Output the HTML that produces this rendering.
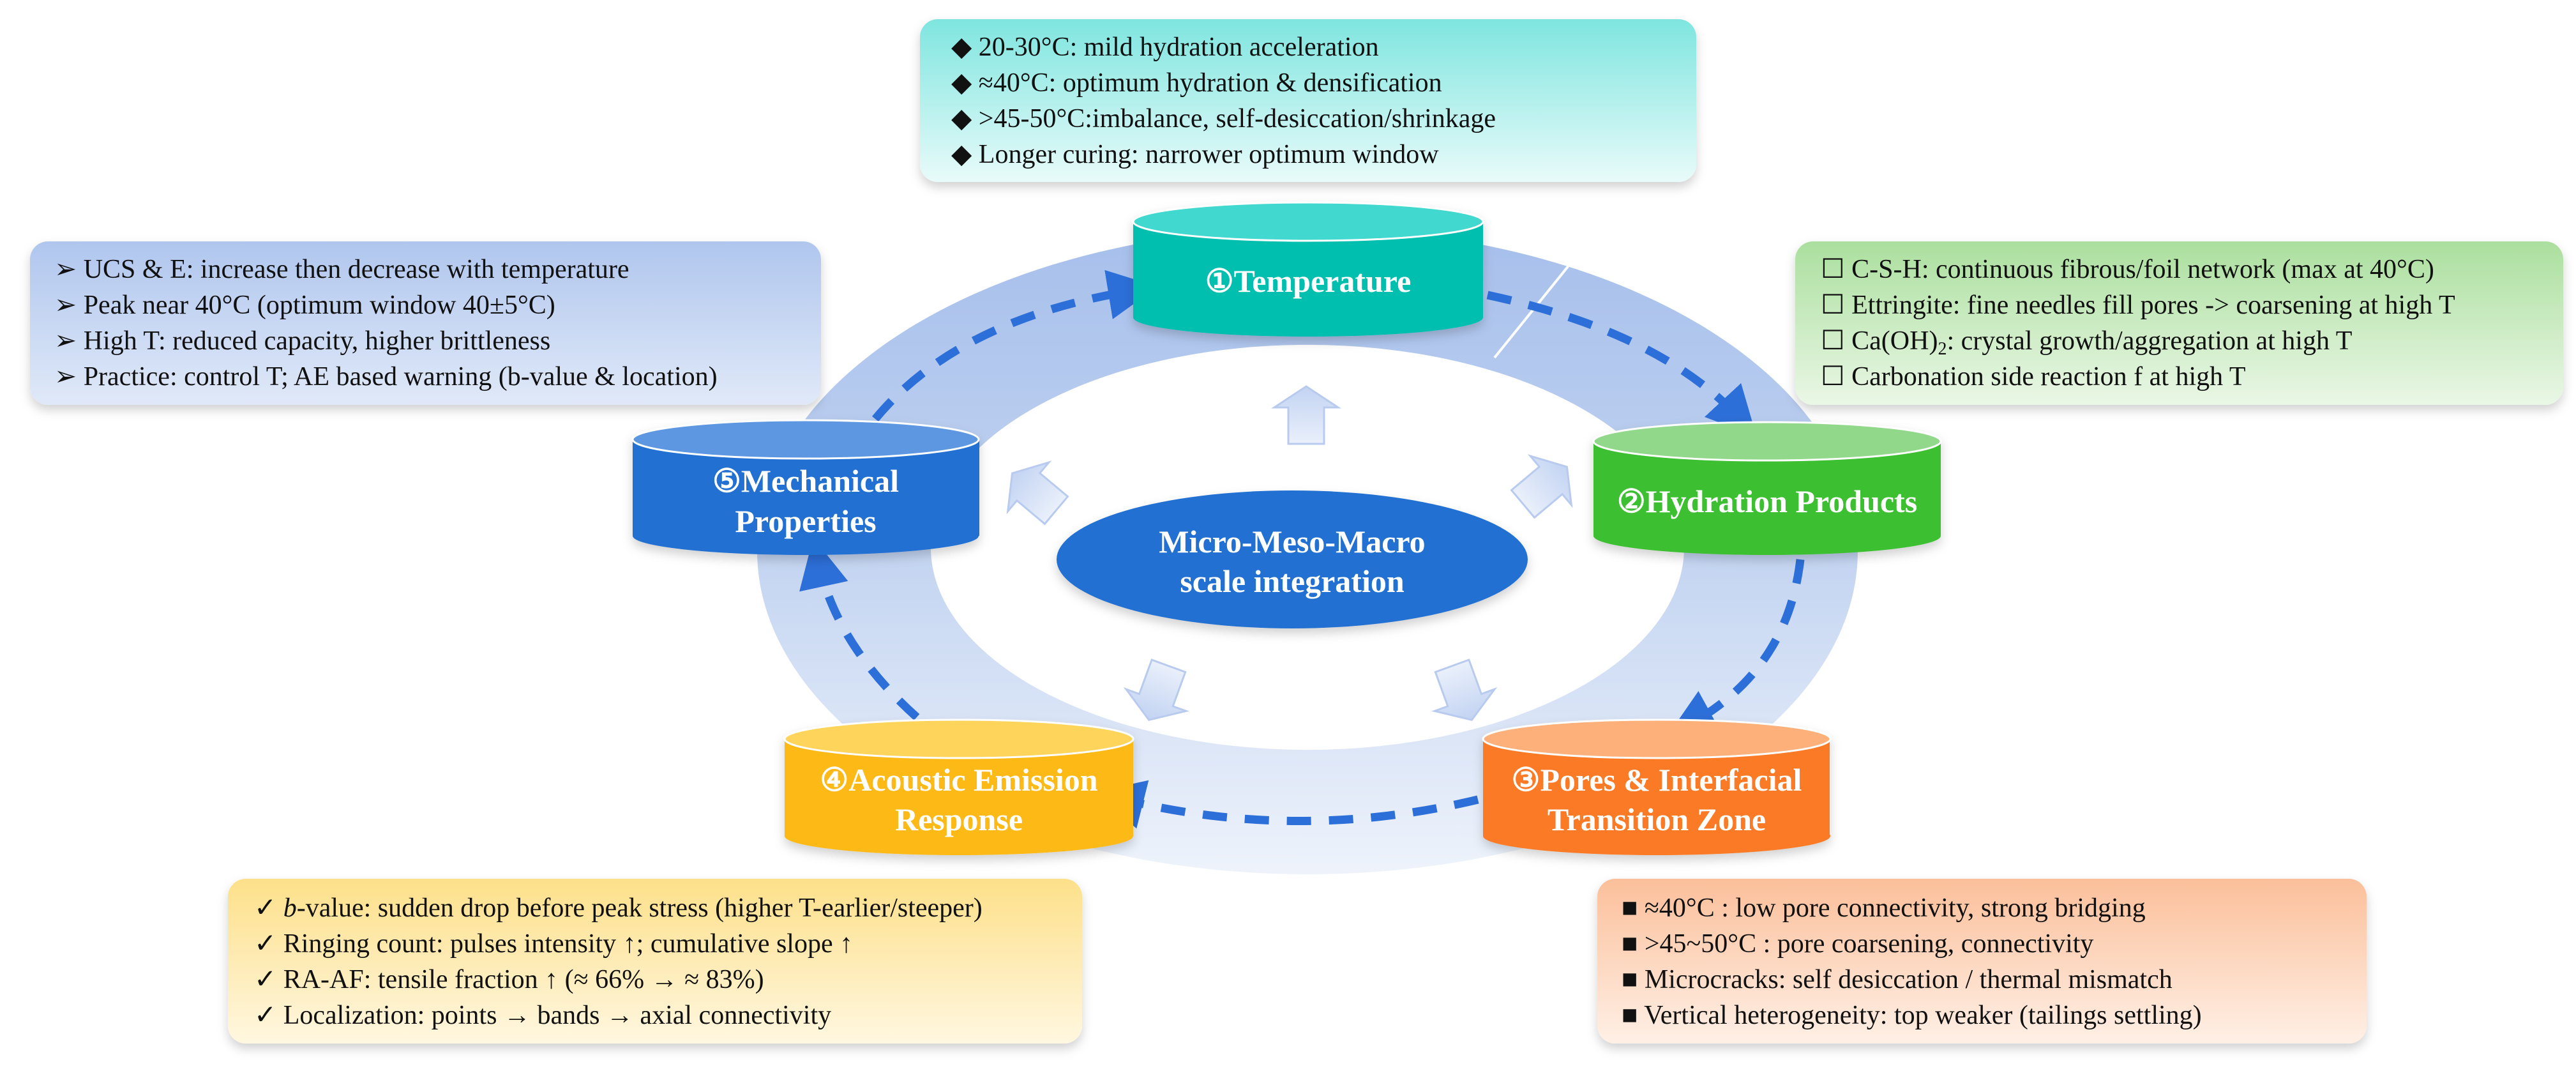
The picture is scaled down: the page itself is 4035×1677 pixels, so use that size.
<!DOCTYPE html>
<html><head><meta charset="utf-8"><style>
html,body{margin:0;padding:0;background:#fff;}
svg{display:block;}
text{font-family:"Liberation Serif","DejaVu Serif",serif;}
.t{font-size:42px;fill:#111;}
.c{font-size:50px;font-weight:bold;fill:#fff;text-anchor:middle;}
</style></head><body>
<svg width="4035" height="1677" viewBox="0 0 4035 1677" xmlns="http://www.w3.org/2000/svg">
<defs>
<linearGradient id="ring" x1="0" y1="0" x2="0" y2="1">
<stop offset="0" stop-color="#a6bfeb"/><stop offset="0.5" stop-color="#c3d4f1"/><stop offset="1" stop-color="#eef3fb"/></linearGradient>
<linearGradient id="gTop" x1="0" y1="0" x2="0" y2="1"><stop offset="0" stop-color="#7fe5df"/><stop offset="1" stop-color="#e8fbfa"/></linearGradient>
<linearGradient id="gLeft" x1="0" y1="0" x2="0" y2="1"><stop offset="0" stop-color="#b0c6ee"/><stop offset="1" stop-color="#e0e9f8"/></linearGradient>
<linearGradient id="gRight" x1="0" y1="0" x2="0" y2="1"><stop offset="0" stop-color="#abdf9e"/><stop offset="1" stop-color="#eaf7e6"/></linearGradient>
<linearGradient id="gBL" x1="0" y1="0" x2="0" y2="1"><stop offset="0" stop-color="#fde08a"/><stop offset="1" stop-color="#fff7e0"/></linearGradient>
<linearGradient id="gBR" x1="0" y1="0" x2="0" y2="1"><stop offset="0" stop-color="#fbbf9a"/><stop offset="1" stop-color="#fff0e6"/></linearGradient>
<linearGradient id="arr" x1="0" y1="0" x2="0" y2="1"><stop offset="0" stop-color="#c2d3f2"/><stop offset="1" stop-color="#eaf0fb"/></linearGradient>
<filter id="sh" x="-5%" y="-10%" width="110%" height="125%"><feDropShadow dx="0" dy="8" stdDeviation="8" flood-color="#000" flood-opacity="0.18"/></filter>
<marker id="ah" markerWidth="6" markerHeight="6" refX="3" refY="3" orient="auto" markerUnits="strokeWidth"><path d="M0,0 L6,3 L0,6 Z" fill="#2d6fd8"/></marker>
</defs>

<path fill-rule="evenodd" fill="url(#ring)" d="M1186,863 a862,506 0 1,0 1724,0 a862,506 0 1,0 -1724,0 Z M1458,857 a590,317 0 1,0 1180,0 a590,317 0 1,0 -1180,0 Z"/>
<line x1="2470" y1="400" x2="2341" y2="560" stroke="#fff" stroke-width="4"/>

<g filter="url(#sh)">
<rect x="1441" y="30" width="1216" height="255" rx="28" fill="url(#gTop)"/>
<rect x="47" y="378" width="1239" height="256" rx="28" fill="url(#gLeft)"/>
<rect x="2812" y="378" width="1203" height="256" rx="28" fill="url(#gRight)"/>
<rect x="357" y="1376" width="1338" height="258" rx="28" fill="url(#gBL)"/>
<rect x="2502" y="1376" width="1205" height="258" rx="28" fill="url(#gBR)"/>
</g>

<g class="t">
<text x="1490" y="87" class="t">◆  20-30°C: mild hydration acceleration</text>
<text x="1490" y="143" class="t">◆  ≈40°C: optimum hydration &amp; densification</text>
<text x="1490" y="199" class="t">◆  &gt;45-50°C:imbalance, self-desiccation/shrinkage</text>
<text x="1490" y="255" class="t">◆  Longer curing: narrower optimum window</text>

<text x="85" y="435" class="t">➢  UCS &amp; E: increase then decrease with temperature</text>
<text x="85" y="491" class="t">➢  Peak near 40°C (optimum window 40±5°C)</text>
<text x="85" y="547" class="t">➢  High T: reduced capacity, higher brittleness</text>
<text x="85" y="603" class="t">➢  Practice: control T; AE based warning (b-value &amp; location)</text>

<text x="2852" y="435" class="t">☐  C-S-H: continuous fibrous/foil network (max at 40°C)</text>
<text x="2852" y="491" class="t">☐  Ettringite: fine needles fill pores -&gt; coarsening at high T</text>
<text x="2852" y="547" class="t">☐  Ca(OH)<tspan font-size="28" dy="8">2</tspan><tspan dy="-8">: crystal growth/aggregation at high T</tspan></text>
<text x="2852" y="603" class="t">☐  Carbonation side reaction f at high T</text>

<text x="398" y="1435" class="t">✓  <tspan font-style="italic">b</tspan>-value: sudden drop before peak stress (higher T-earlier/steeper)</text>
<text x="398" y="1491" class="t">✓  Ringing count: pulses intensity ↑; cumulative slope ↑</text>
<text x="398" y="1547" class="t">✓  RA-AF: tensile fraction ↑ (≈ 66% → ≈ 83%)</text>
<text x="398" y="1603" class="t">✓  Localization: points → bands → axial connectivity</text>

<text x="2540" y="1435" class="t">■  ≈40°C : low pore connectivity, strong bridging</text>
<text x="2540" y="1491" class="t">■  &gt;45~50°C : pore coarsening, connectivity</text>
<text x="2540" y="1547" class="t">■  Microcracks: self desiccation / thermal mismatch</text>
<text x="2540" y="1603" class="t">■  Vertical heterogeneity: top weaker (tailings settling)</text>
</g>

<g fill="url(#arr)" stroke="#b8cbef" stroke-width="3">
<path transform="translate(2046,650)" d="M0,-45 L50,-12 L28,-12 L28,45 L-28,45 L-28,-12 L-50,-12 Z"/>
<path transform="translate(1620,770) rotate(-50)" d="M0,-45 L50,-12 L28,-12 L28,45 L-28,45 L-28,-12 L-50,-12 Z"/>
<path transform="translate(2420,760) rotate(50)" d="M0,-45 L50,-12 L28,-12 L28,45 L-28,45 L-28,-12 L-50,-12 Z"/>
<path transform="translate(1815,1085) rotate(200)" d="M0,-45 L50,-12 L28,-12 L28,45 L-28,45 L-28,-12 L-50,-12 Z"/>
<path transform="translate(2290,1085) rotate(160)" d="M0,-45 L50,-12 L28,-12 L28,45 L-28,45 L-28,-12 L-50,-12 Z"/>
</g>

<g fill="none" stroke="#2d6fd8" stroke-width="13" stroke-dasharray="38,28" marker-end="url(#ah)">
<path d="M1371,656 Q1500,500 1775,455"/>
<path d="M2330,462 Q2600,520 2725,655"/>
<path d="M2820,876 Q2800,1050 2645,1135"/>
<path d="M2315,1252 Q2030,1320 1752,1250"/>
<path d="M1436,1123 Q1310,1010 1282,880"/>
</g>

<ellipse cx="2024" cy="876" rx="369" ry="108" fill="#2170d2" filter="url(#sh)"/>
<text x="2024" y="865" class="c">Micro-Meso-Macro</text>
<text x="2024" y="927" class="c">scale integration</text>

<g filter="url(#sh)">
<rect x="1775" y="347" width="548" height="150" fill="#00bfae"/>
<ellipse cx="2049" cy="497" rx="274" ry="30" fill="#00bfae"/>
<ellipse cx="2049" cy="347" rx="274" ry="30" fill="#40d8cf" stroke="#fff" stroke-width="3"/>
<rect x="2496" y="691" width="544" height="148" fill="#3cbf31"/>
<ellipse cx="2768" cy="839" rx="272" ry="30" fill="#3cbf31"/>
<ellipse cx="2768" cy="691" rx="272" ry="30" fill="#92d88a" stroke="#fff" stroke-width="3"/>
<rect x="991" y="688" width="543" height="151" fill="#2170d2"/>
<ellipse cx="1262" cy="839" rx="271" ry="30" fill="#2170d2"/>
<ellipse cx="1262" cy="688" rx="271" ry="30" fill="#5d97e2" stroke="#fff" stroke-width="3"/>
<rect x="1229" y="1157" width="546" height="152" fill="#fdb914"/>
<ellipse cx="1502" cy="1309" rx="273" ry="30" fill="#fdb914"/>
<ellipse cx="1502" cy="1157" rx="273" ry="30" fill="#fed55a" stroke="#fff" stroke-width="3"/>
<rect x="2323" y="1157" width="543" height="152" fill="#fb7a25"/>
<ellipse cx="2595" cy="1309" rx="272" ry="30" fill="#fb7a25"/>
<ellipse cx="2595" cy="1157" rx="272" ry="30" fill="#fdb07a" stroke="#fff" stroke-width="3"/>
</g>
<text x="2049" y="457" class="c">①Temperature</text>
<text x="2768" y="802" class="c">②Hydration Products</text>
<text x="1262" y="770" class="c">⑤Mechanical</text>
<text x="1262" y="833" class="c">Properties</text>
<text x="1502" y="1238" class="c">④Acoustic Emission</text>
<text x="1502" y="1300" class="c">Response</text>
<text x="2595" y="1238" class="c">③Pores &amp; Interfacial</text>
<text x="2595" y="1300" class="c">Transition Zone</text>
</svg>
</body></html>
